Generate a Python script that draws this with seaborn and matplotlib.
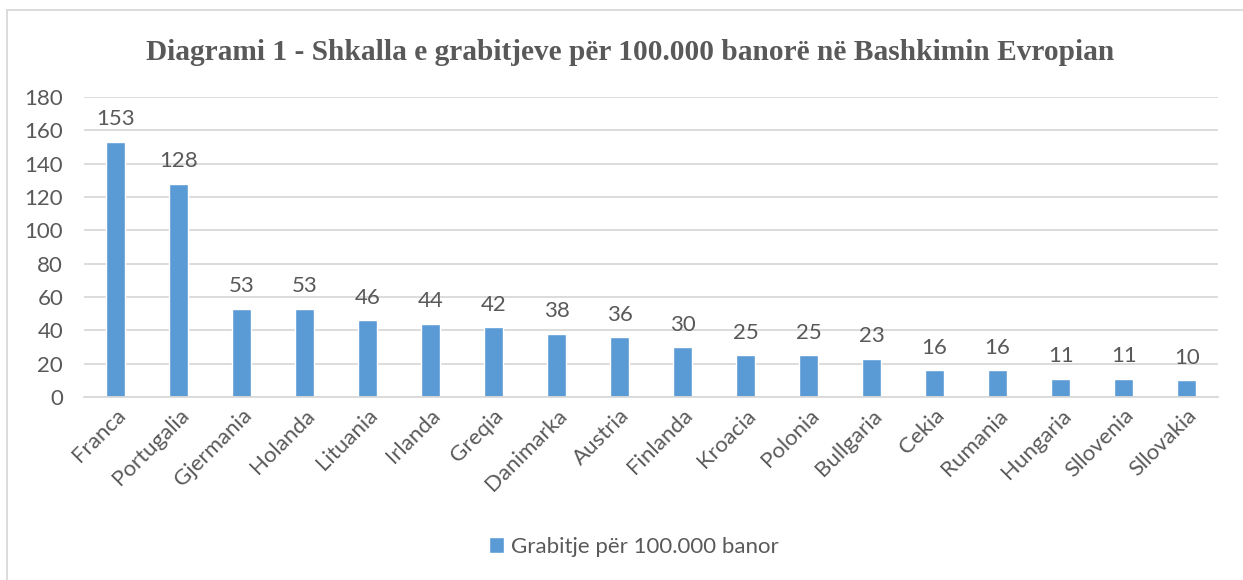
import seaborn as sns
from matplotlib import pyplot as plt
from matplotlib.lines import Line2D

countries = ['Franca', 'Portugalia', 'Gjermania', 'Holanda', 'Lituania', 'Irlanda',
             'Greqia', 'Danimarka', 'Austria', 'Finlanda', 'Kroacia', 'Polonia',
             'Bullgaria', 'Cekia', 'Rumania', 'Hungaria', 'Sllovenia', 'Sllovakia']
rates = [153, 128, 53, 53, 46, 44, 42, 38, 36, 30, 25, 25, 23, 16, 16, 11, 11, 10]
yticks = [0, 20, 40, 60, 80, 100, 120, 140, 160, 180]

title = 'Diagrami 1 - Shkalla e grabitjeve për 100.000 banorë në Bashkimin Evropian'
series_name = 'Grabitje për 100.000 banor'

blue = '#5B9BD5'
txt = '#595959'
grid = '#D9D9D9'

sns.set_style('white')
plt.rcParams['font.family'] = ['Lato', 'DejaVu Sans']

fig = plt.figure(figsize=(12.43, 5.8), dpi=100)
ax = fig.add_axes([0.0676, 0.3155, 0.9124, 0.5173])

sns.barplot(x=countries, y=rates, color=blue, width=0.3, saturation=1,
            label=series_name, ax=ax)

ax.set_ylim(0, 180)
ax.set_yticks(yticks)
ax.set_xlim(-0.5, len(countries) - 0.5)
ax.yaxis.grid(True, color=grid, linewidth=1.3)
ax.set_axisbelow(True)
for s in ['top', 'right', 'left']:
    ax.spines[s].set_visible(False)
ax.spines['bottom'].set_color(grid)
ax.spines['bottom'].set_linewidth(1.3)
ax.tick_params(axis='both', length=0, labelsize=16, labelcolor=txt)
ax.tick_params(axis='y', pad=15)
ax.tick_params(axis='x', pad=6)
plt.setp(ax.get_xticklabels(), rotation=45, ha='right', rotation_mode='anchor')

ax.bar_label(ax.containers[0], padding=9, fontsize=16, color=txt)

fig.suptitle(title, x=0.507, y=0.91, va='center', fontsize=21.2, fontweight='bold',
             color=txt, family='Liberation Serif')

ax.legend(loc='center', bbox_to_anchor=(0.51, 0.057), bbox_transform=fig.transFigure,
          frameon=False, fontsize=16, labelcolor=txt, handlelength=0.7,
          handleheight=0.7, handletextpad=0.3)

# chart-area border
fig.add_artist(Line2D([7 / 1243, 1], [570 / 580, 570 / 580], transform=fig.transFigure,
                      color=grid, linewidth=1.3))
fig.add_artist(Line2D([7 / 1243, 7 / 1243], [0, 570 / 580], transform=fig.transFigure,
                      color=grid, linewidth=1.3))

fig.savefig('out.png', dpi=100, facecolor='white')
